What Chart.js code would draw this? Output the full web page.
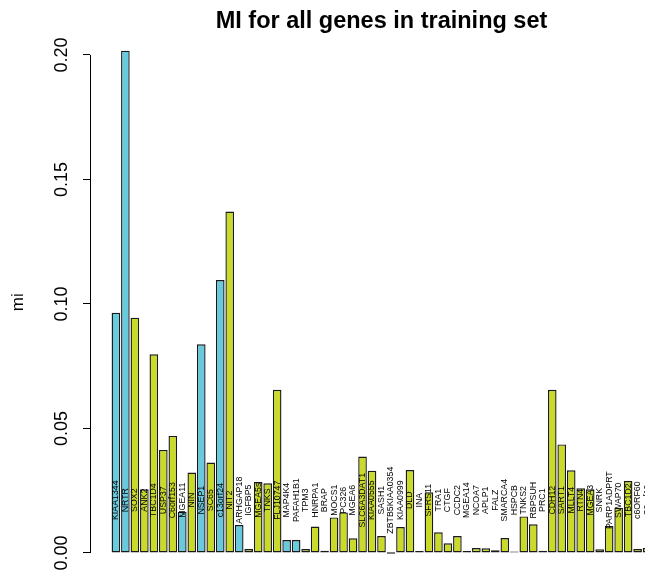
<!DOCTYPE html>
<html>
<head>
<meta charset="utf-8">
<script src="https://cdn.jsdelivr.net/npm/chart.js@4"></script>
<style>
  html, body { margin: 0; padding: 0; background: #fff; overflow: hidden; }
  #wrap { width: 680px; height: 571px; }
</style>
</head>
<body>
<div id="wrap"><canvas id="miChart" width="680" height="571"></canvas></div>
<script>
// gene names, in plot order
const genes = [
  'KIAA1344', 'NRTR', 'SOX2', 'ANK2', 'TBC1D4', 'USP37', 'C6orf153', 'MGEA11', 'NIN', 'NSEP1',
  'SC65', 'c13orf24', 'NIT2', 'ARHGAP18', 'IGFBP5', 'MGEA5s', 'TNKS', 'FLJ10747', 'MAP4K4', 'PAFAH1B1',
  'TPM3', 'HNRPA1', 'BRAP', 'MOCS1', 'PC326', 'MGEA6', 'SLC6A3DAT1', 'KIAA0555', 'SASH1', 'ZBTB5KIAA0354',
  'KIAA0999', 'DLD', 'INA', 'SFRS11', 'TRA1', 'CTGF', 'CCDC2', 'MGEA14', 'NCOA7', 'APLP1',
  'FALZ', 'SMARCA4', 'HSPCB', 'TNKS2', 'RBPSUH', 'PRC1', 'CDH12', 'SART1', 'MLLT4', 'RTN4',
  'MGEA3', 'SNRK', 'PARP1ADPRT', 'SWAP70', 'TBC1D2', 'c6ORF60', 'C9orf10'
];

// mutual information per gene
const mi = [
  0.0965, 0.2017, 0.0945, 0.0256, 0.0798, 0.0414, 0.0470, 0.0166, 0.0323, 0.0838,
  0.0363, 0.1096, 0.1371, 0.0112, 0.0016, 0.0285, 0.0280, 0.0655, 0.0052, 0.0052,
  0.0016, 0.0106, 0.0009, 0.0143, 0.0163, 0.0059, 0.0387, 0.0330, 0.0068, 0.0000,
  0.0104, 0.0333, 0.0008, 0.0244, 0.0083, 0.0039, 0.0068, 0.0008, 0.0020, 0.0019,
  0.0011, 0.0060, 0.0005, 0.0147, 0.0115, 0.0009, 0.0655, 0.0436, 0.0332, 0.0260,
  0.0256, 0.0015, 0.0108, 0.0182, 0.0289, 0.0016, 0.0020
];

// 1 = blue group, 2 = green group
const group = [
  1, 1, 2, 2, 2, 2, 2, 1, 2, 1,
  2, 1, 2, 1, 2, 2, 2, 2, 1, 1,
  2, 2, 2, 2, 2, 2, 2, 2, 2, 2,
  2, 2, 2, 2, 2, 2, 2, 2, 2, 2,
  2, 2, 2, 2, 2, 2, 2, 2, 2, 2,
  2, 2, 2, 2, 2, 2, 2
];

const yTicks = [0, 0.05, 0.10, 0.15, 0.20];

const groupColors = { 1: '#68cadd', 2: '#c9da28' };
const FONT = 'Liberation Sans, Arial, Helvetica, sans-serif';

// R style y axis line: only from first to last tick
const axisLine = {
  id: 'axisLine',
  afterDraw(chart) {
    const y = chart.scales.y;
    const ctx = chart.ctx;
    const x = Math.round(chart.chartArea.left) + 0.5;
    ctx.save();
    ctx.strokeStyle = '#000';
    ctx.lineWidth = 1;
    ctx.beginPath();
    ctx.moveTo(x, y.getPixelForValue(yTicks[0]));
    ctx.lineTo(x, y.getPixelForValue(yTicks[yTicks.length - 1]));
    ctx.stroke();
    ctx.restore();
  }
};

// vertical gene names over the bars
const geneLabels = {
  id: 'geneLabels',
  afterDatasetsDraw(chart) {
    const ctx = chart.ctx;
    const meta = chart.getDatasetMeta(0);
    const yc = chart.scales.y.getPixelForValue(0.0212);
    ctx.save();
    ctx.fillStyle = '#000';
    ctx.font = '8.8px ' + FONT;
    ctx.textAlign = 'center';
    ctx.textBaseline = 'middle';
    meta.data.forEach((bar, i) => {
      ctx.save();
      ctx.translate(bar.x, yc);
      ctx.rotate(-Math.PI / 2);
      ctx.fillText(genes[i], 0, 0);
      ctx.restore();
    });
    ctx.restore();
  }
};

new Chart(document.getElementById('miChart'), {
  type: 'bar',
  data: {
    datasets: [{
      data: mi.map((v, i) => ({ x: i, y: v })),
      backgroundColor: group.map(g => groupColors[g]),
      borderColor: '#1a1a1a',
      borderWidth: 1.4,
      borderSkipped: false,
      minBarLength: 1.4,
      barPercentage: 0.909,
      categoryPercentage: 1
    }]
  },
  options: {
    responsive: false,
    animation: false,
    devicePixelRatio: 1,
    layout: { padding: { left: 0, right: 7, top: 0, bottom: 0 } },
    scales: {
      x: {
        type: 'linear',
        min: -2.73,
        max: 58.73,
        offset: false,
        display: false
      },
      y: {
        min: -0.00723,
        max: 0.2086,
        afterFit: s => { s.width = 90; s.paddingTop = 0; s.paddingBottom = 0; },
        afterBuildTicks: s => { s.ticks = yTicks.map(v => ({ value: v })); },
        border: { display: false },
        grid: { drawOnChartArea: false, drawTicks: true, tickLength: 7, color: '#000', lineWidth: 1 },
        ticks: {
          minRotation: 90,
          maxRotation: 90,
          crossAlign: 'center',
          padding: 3.5,
          color: '#000',
          font: { family: FONT, size: 18 },
          callback: v => v.toFixed(2)
        },
        title: {
          display: true,
          text: 'mi',
          color: '#000',
          font: { family: FONT, size: 17 },
          padding: { top: 8 }
        }
      }
    },
    plugins: {
      legend: { display: false },
      tooltip: { enabled: false },
      title: {
        display: true,
        text: 'MI for all genes in training set',
        fullSize: false,
        color: '#000',
        font: { family: FONT, size: 23.5, weight: 'bold', lineHeight: 1 },
        padding: { top: 10, bottom: 0 }
      }
    }
  },
  plugins: [axisLine, geneLabels]
});
</script>
</body>
</html>
